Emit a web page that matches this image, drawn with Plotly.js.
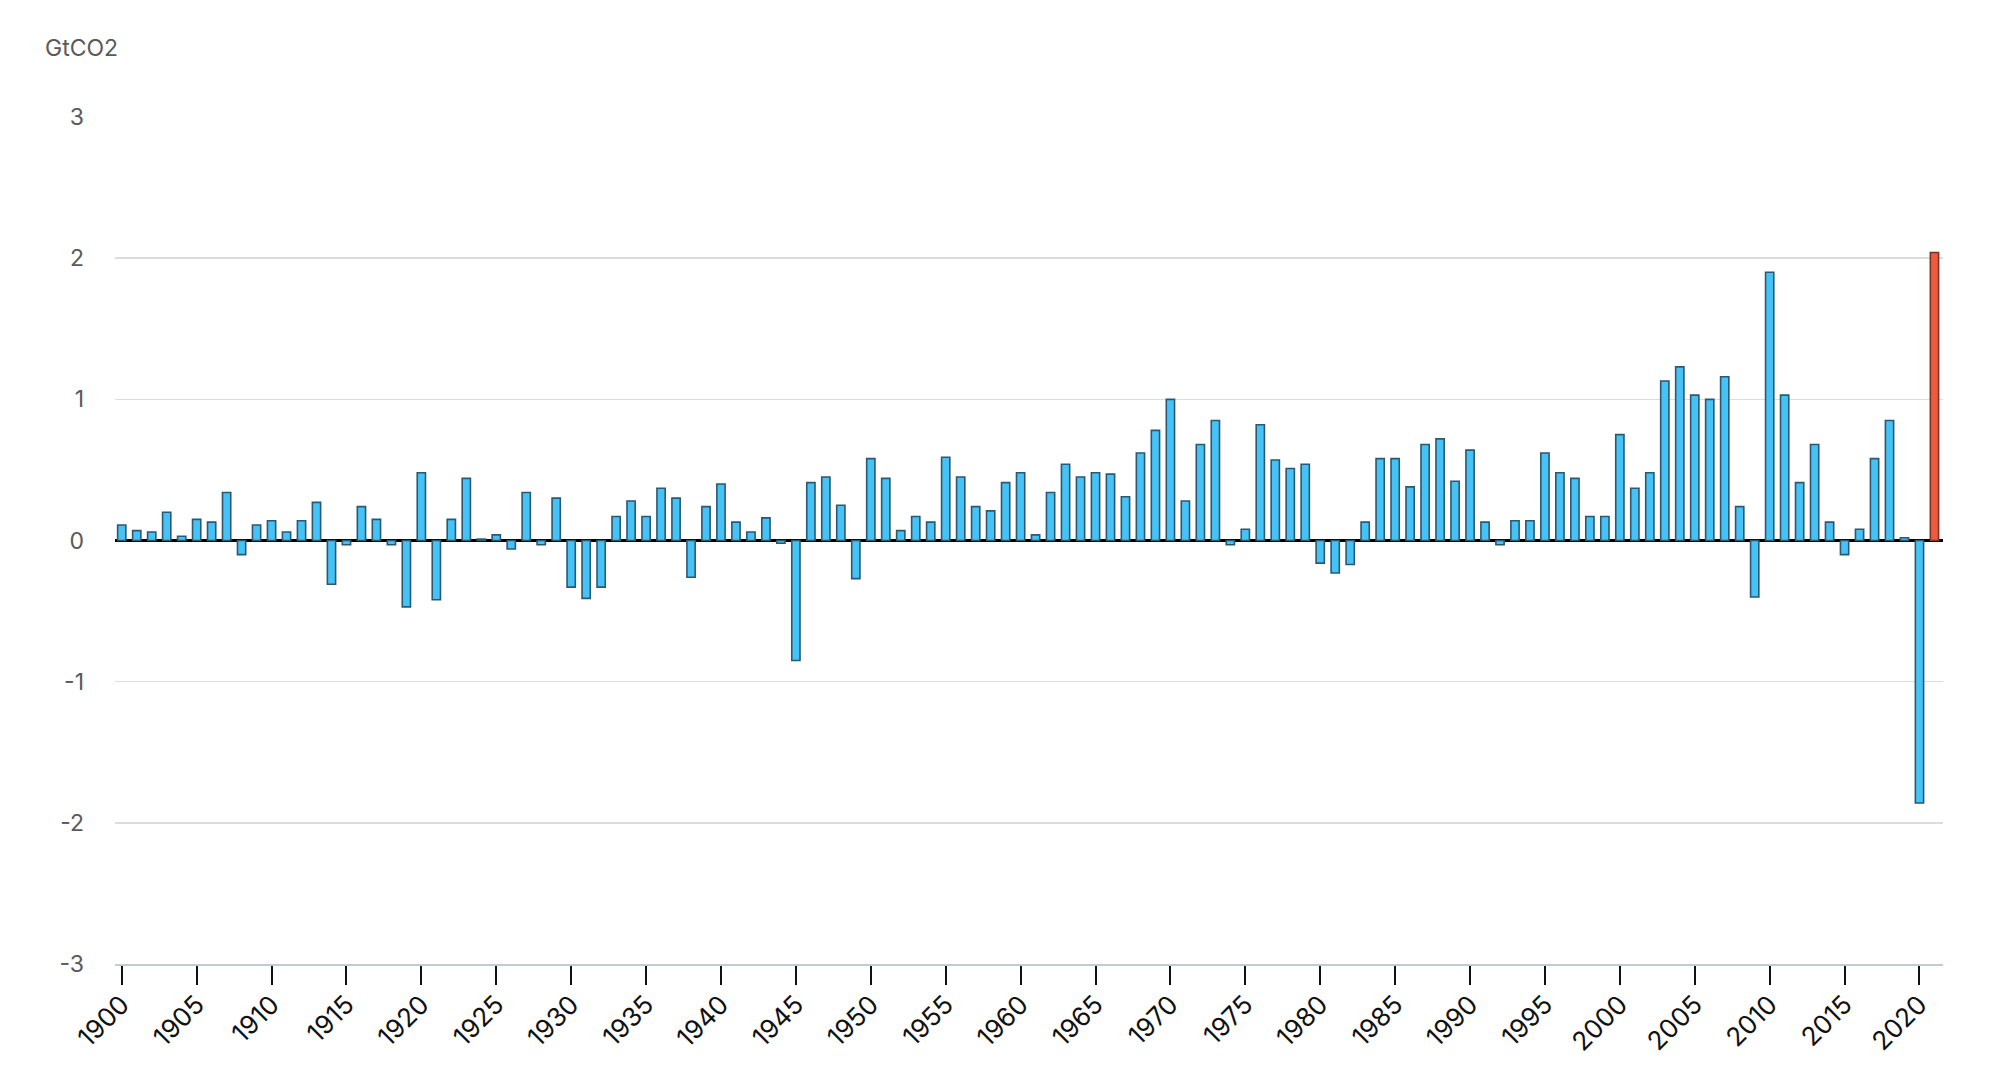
<!DOCTYPE html>
<html>
<head>
<meta charset="utf-8">
<script src="https://cdn.plot.ly/plotly-3.0.1.min.js"></script>
<style>
  html, body { margin: 0; padding: 0; background: #ffffff; }
  #chart { width: 1994px; height: 1092px; }
</style>
</head>
<body>
<div id="chart"></div>
<script>
// Annual change in global CO2 emissions (GtCO2), 1900-2021
const years = [];
for (let y = 1900; y <= 2021; y++) years.push(y);

const changes1900s = [0.11, 0.07, 0.06, 0.20, 0.03, 0.15, 0.13, 0.34, -0.10, 0.11];
const changes1910s = [0.14, 0.06, 0.14, 0.27, -0.31, -0.03, 0.24, 0.15, -0.03, -0.47];
const changes1920s = [0.48, -0.42, 0.15, 0.44, 0.01, 0.04, -0.06, 0.34, -0.03, 0.30];
const changes1930s = [-0.33, -0.41, -0.33, 0.17, 0.28, 0.17, 0.37, 0.30, -0.26, 0.24];
const changes1940s = [0.40, 0.13, 0.06, 0.16, -0.02, -0.85, 0.41, 0.45, 0.25, -0.27];
const changes1950s = [0.58, 0.44, 0.07, 0.17, 0.13, 0.59, 0.45, 0.24, 0.21, 0.41];
const changes1960s = [0.48, 0.04, 0.34, 0.54, 0.45, 0.48, 0.47, 0.31, 0.62, 0.78];
const changes1970s = [1.00, 0.28, 0.68, 0.85, -0.03, 0.08, 0.82, 0.57, 0.51, 0.54];
const changes1980s = [-0.16, -0.23, -0.17, 0.13, 0.58, 0.58, 0.38, 0.68, 0.72, 0.42];
const changes1990s = [0.64, 0.13, -0.03, 0.14, 0.14, 0.62, 0.48, 0.44, 0.17, 0.17];
const changes2000s = [0.75, 0.37, 0.48, 1.13, 1.23, 1.03, 1.00, 1.16, 0.24, -0.40];
const changes2010s = [1.90, 1.03, 0.41, 0.68, 0.13, -0.10, 0.08, 0.58, 0.85, 0.02];
const changes2020s = [-1.86, 2.04];

const values = [].concat(changes1900s, changes1910s, changes1920s, changes1930s,
  changes1940s, changes1950s, changes1960s, changes1970s, changes1980s,
  changes1990s, changes2000s, changes2010s, changes2020s);

const highlightYear = 2021;
const xTickVals = [];
for (let y = 1900; y <= 2020; y += 5) xTickVals.push(y);
const yTickVals = [-3, -2, -1, 0, 1, 2, 3];
const unitLabel = 'GtCO2';

const fillColors = years.map(y => y === highlightYear ? '#f15a3c' : '#45c3f6');
const lineColors = years.map(y => y === highlightYear ? '#7a3326' : '#2c5870');

const FONT = 'Inter, "Liberation Sans", Arial, sans-serif';

const trace = {
  type: 'bar',
  x: years,
  y: values,
  marker: {
    color: fillColors,
    line: { color: lineColors, width: 1.6 }
  },
  hoverinfo: 'x+y'
};

const layout = {
  width: 1994,
  height: 1092,
  paper_bgcolor: '#ffffff',
  plot_bgcolor: '#ffffff',
  margin: { l: 115, r: 51, t: 117, b: 128 },
  bargap: 0.45,
  showlegend: false,
  font: { family: FONT, color: '#5a5a5a', size: 23 },
  xaxis: {
    type: 'linear',
    range: [1899.55, 2021.57],
    tickmode: 'array',
    tickvals: xTickVals,
    ticktext: xTickVals.map(String),
    tickangle: -45,
    ticks: 'outside',
    ticklen: 19,
    tickwidth: 2,
    tickcolor: '#111111',
    tickfont: { family: FONT, size: 26, color: '#111111' },
    ticklabelstandoff: -6,
    showline: true,
    linecolor: '#c3cad5',
    linewidth: 2,
    showgrid: false,
    zeroline: false
  },
  yaxis: {
    range: [-3, 3],
    tickmode: 'array',
    tickvals: yTickVals,
    ticktext: yTickVals.map(String),
    tickfont: { family: FONT, size: 23, color: '#5a5a5a' },
    ticklabelstandoff: 30,
    showgrid: true,
    gridcolor: '#dcdcdc',
    gridwidth: 1.5,
    zeroline: true,
    zerolinecolor: '#000000',
    zerolinewidth: 2.5,
    showline: false
  },
  annotations: [{
    text: unitLabel,
    xref: 'paper', yref: 'paper',
    x: -0.0394, y: 1.0815,
    xanchor: 'left', yanchor: 'middle',
    showarrow: false,
    font: { family: FONT, size: 23, color: '#5a5a5a' }
  }]
};

Plotly.newPlot('chart', [trace], layout, { displayModeBar: false, staticPlot: true });
</script>
</body>
</html>
